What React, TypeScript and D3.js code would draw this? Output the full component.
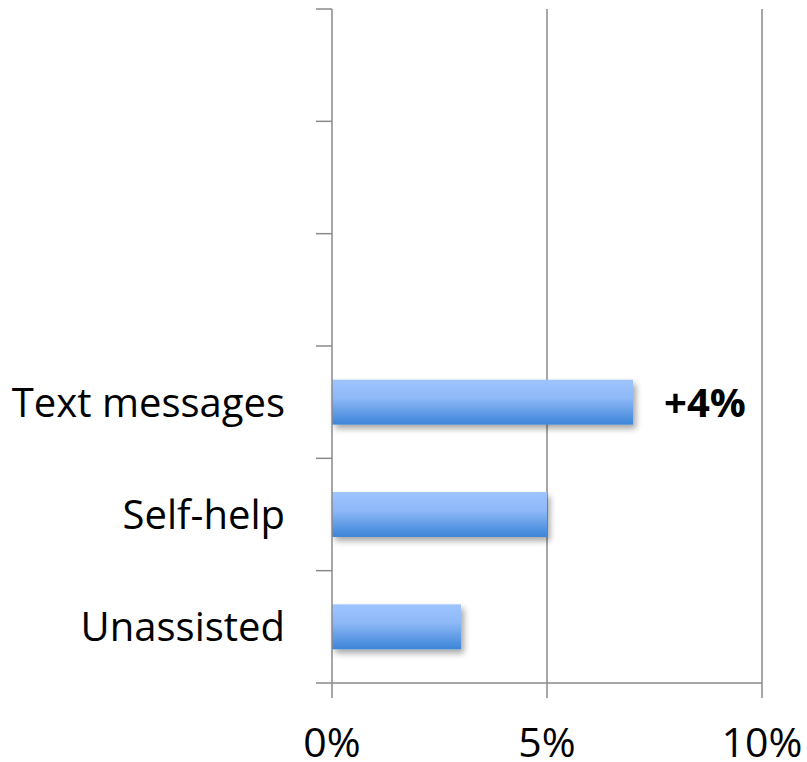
import React from "react";
import * as d3 from "d3";

const categories = ["", " ", "  ", "Text messages", "Self-help", "Unassisted"];
const values = [null, null, null, 7, 5, 3];
const xTicks = [0, 5, 10];
const annotations = [{ category: "Text messages", text: "+4%" }];

export default function App() {
  const width = 807;
  const height = 762;
  const x0 = 332;
  const x1 = 762;
  const yTop = 9;
  const yBot = 683;
  const x = d3.scaleLinear().domain([0, 10]).range([x0, x1]);
  const y = d3.scaleBand().domain(categories).range([yTop, yBot]).paddingInner(0.6).paddingOuter(0.3);
  const bandEdges = d3.range(categories.length + 1).map((i) => yTop + (i * (yBot - yTop)) / categories.length);
  const font = "'Open Sans', sans-serif";
  const grey = "#8a8a8a";
  const fs = 40;
  const capHalf = 14.5;
  return (
    <svg width={width} height={height} style={{ position: "absolute", left: 0, top: 0 }}>
      <defs>
        <linearGradient id="barGrad" x1="0" y1="0" x2="0" y2="1">
          <stop offset="0%" stopColor="#9dc4fe" />
          <stop offset="40%" stopColor="#8fb9f7" />
          <stop offset="100%" stopColor="#3c84d8" />
        </linearGradient>
        <filter id="shadow" x="-10%" y="-30%" width="130%" height="180%">
          <feGaussianBlur in="SourceAlpha" stdDeviation="3" />
          <feOffset dx="3" dy="4" result="blur" />
          <feComponentTransfer>
            <feFuncA type="linear" slope="0.35" />
          </feComponentTransfer>
          <feMerge>
            <feMergeNode />
            <feMergeNode in="SourceGraphic" />
          </feMerge>
        </filter>
      </defs>
      <rect width={width} height={height} fill="#fff" />
      {xTicks.filter((t) => t > 0).map((t) => (
        <line key={t} x1={x(t)} x2={x(t)} y1={yTop} y2={yBot + 15} stroke={grey} strokeWidth={1.5} />
      ))}
      {categories.map((c, i) =>
        values[i] != null ? (
          <rect
            key={c}
            x={x(0)}
            y={y(c)}
            width={x(values[i] as number) - x(0)}
            height={y.bandwidth()}
            fill="url(#barGrad)"
            filter="url(#shadow)"
          />
        ) : null
      )}
      <line x1={x0} x2={x0} y1={yTop} y2={yBot + 15} stroke={grey} strokeWidth={1.5} />
      <line x1={x0 - 16} x2={x1} y1={yBot} y2={yBot} stroke={grey} strokeWidth={1.5} />
      {bandEdges.slice(0, -1).map((e, i) => (
        <line key={i} x1={x0 - 16} x2={x0} y1={e} y2={e} stroke={grey} strokeWidth={1.5} />
      ))}
      {categories.map((c, i) =>
        values[i] != null ? (
          <text
            key={c}
            x={285}
            y={(y(c) as number) + y.bandwidth() / 2 + capHalf}
            textAnchor="end"
            fontFamily={font}
            fontSize={fs}
            fill="#000"
          >
            {c}
          </text>
        ) : null
      )}
      {xTicks.map((t) => (
        <text key={t} x={x(t)} y={757} textAnchor="middle" fontFamily={font} fontSize={41} fill="#000">
          {t}%
        </text>
      ))}
      {annotations.map((a) => (
        <text
          key={a.text}
          x={705}
          y={(y(a.category) as number) + y.bandwidth() / 2 + capHalf}
          textAnchor="middle"
          fontFamily={font}
          fontWeight="bold"
          fontSize={fs}
          fill="#000"
        >
          {a.text}
        </text>
      ))}
    </svg>
  );
}
